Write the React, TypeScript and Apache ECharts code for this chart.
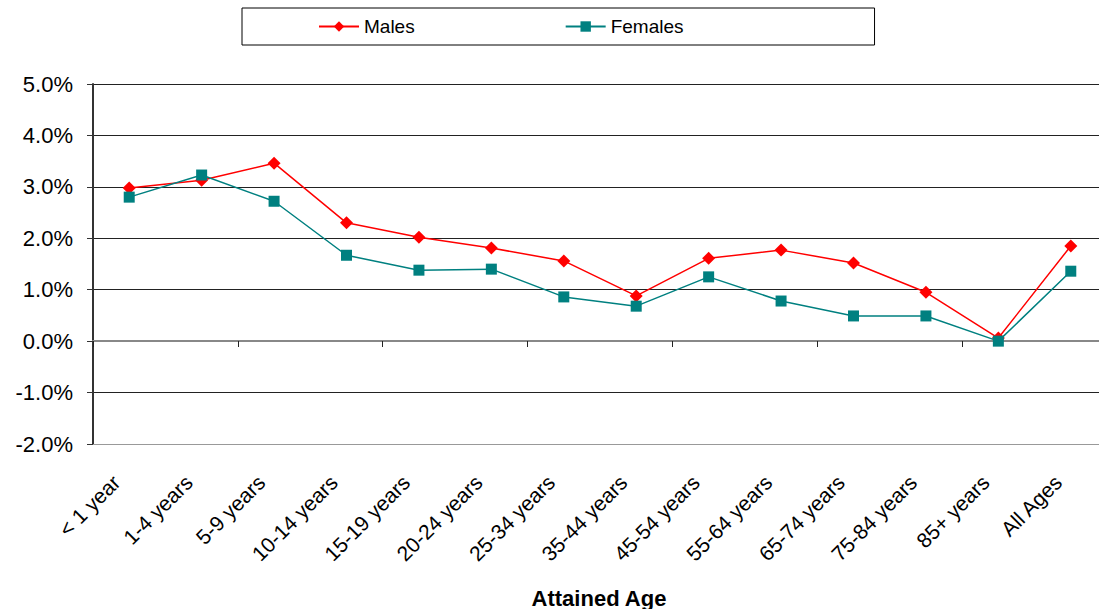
import React, { useEffect, useRef } from "react";
import * as echarts from "echarts";

const categories = [
  "< 1 year", "1-4 years", "5-9 years", "10-14 years", "15-19 years", "20-24 years",
  "25-34 years", "35-44 years", "45-54 years", "55-64 years", "65-74 years",
  "75-84 years", "85+ years", "All Ages",
];
const males = [2.98, 3.13, 3.46, 2.3, 2.02, 1.81, 1.56, 0.88, 1.61, 1.77, 1.52, 0.95, 0.06, 1.85];
const females = [2.8, 3.23, 2.72, 1.67, 1.38, 1.4, 0.86, 0.68, 1.25, 0.78, 0.49, 0.49, 0.0, 1.36];
const yMin = -2;
const yMax = 5;
const yStep = 1;

const FONT = "'Liberation Sans', Arial, sans-serif";

export default function App() {
  const ref = useRef<HTMLDivElement>(null);
  useEffect(() => {
    const chart = echarts.init(ref.current!, null, { renderer: "svg" });
    chart.setOption({
      animation: false,
      backgroundColor: "#ffffff",
      textStyle: { fontFamily: FONT },
      legend: {
        left: 242,
        top: 8,
        padding: [9, 191, 9, 76],
        itemGap: 150,
        itemWidth: 40,
        itemHeight: 13,
        borderColor: "#000",
        borderWidth: 1,
        textStyle: { fontSize: 19, color: "#000", fontFamily: FONT },
        data: ["Males", "Females"],
      },
      grid: { left: 93, top: 84, height: 360, right: 3 },
      xAxis: [
        {
          type: "category",
          data: categories,
          position: "bottom",
          boundaryGap: true,
          axisLine: { show: true, onZero: false, lineStyle: { color: "#999", width: 1 } },
          axisTick: { show: false },
          axisLabel: {
            rotate: 45,
            margin: 22,
            padding: [0, 18, 0, 0],
            fontSize: 21,
            color: "#000",
            fontFamily: FONT,
            interval: 0,
          },
        },
        {
          type: "category",
          data: categories,
          position: "bottom",
          offset: -103,
          boundaryGap: true,
          axisLine: { show: true, onZero: false, lineStyle: { color: "#888", width: 2 } },
          axisTick: { show: true, length: 6, inside: false, lineStyle: { color: "#222", width: 1 } },
          axisLabel: { show: false },
        },
      ],
      yAxis: {
        type: "value",
        min: yMin,
        max: yMax,
        interval: yStep,
        axisLine: { show: true, lineStyle: { color: "#333", width: 2 } },
        axisTick: { show: true, length: 6, lineStyle: { color: "#333" } },
        axisLabel: {
          margin: 20,
          fontSize: 22,
          color: "#000",
          fontFamily: FONT,
          formatter: (v: number) => `${v.toFixed(1)}%`,
        },
        splitLine: {
          show: true,
          lineStyle: {
            color: ["#999", "#222", "#888", "#222", "#222", "#222", "#222", "#222"],
            width: 1,
          },
        },
      },
      series: [
        {
          name: "Males",
          type: "line",
          data: males,
          xAxisIndex: 0,
          color: "#ff0000",
          symbol: "diamond",
          symbolSize: 13,
          lineStyle: { color: "#ff0000", width: 1.5 },
          itemStyle: { color: "#ff0000" },
          z: 3,
        },
        {
          name: "Females",
          type: "line",
          data: females,
          xAxisIndex: 0,
          color: "#008080",
          symbol: "rect",
          symbolSize: 11,
          lineStyle: { color: "#008080", width: 1.5 },
          itemStyle: { color: "#008080" },
          z: 4,
        },
      ],
      graphic: [
        {
          type: "text",
          x: 599,
          y: 598,
          style: {
            text: "Attained Age",
            font: `bold 22px ${FONT}`,
            fill: "#000",
            align: "center",
            verticalAlign: "middle",
          },
        },
      ],
    });
    return () => chart.dispose();
  }, []);
  return (
    <div style={{ position: "fixed", left: 0, top: 0, width: 1099, height: 609, overflow: "hidden" }}>
      <div ref={ref} style={{ width: 1110, height: 609 }} />
    </div>
  );
}
